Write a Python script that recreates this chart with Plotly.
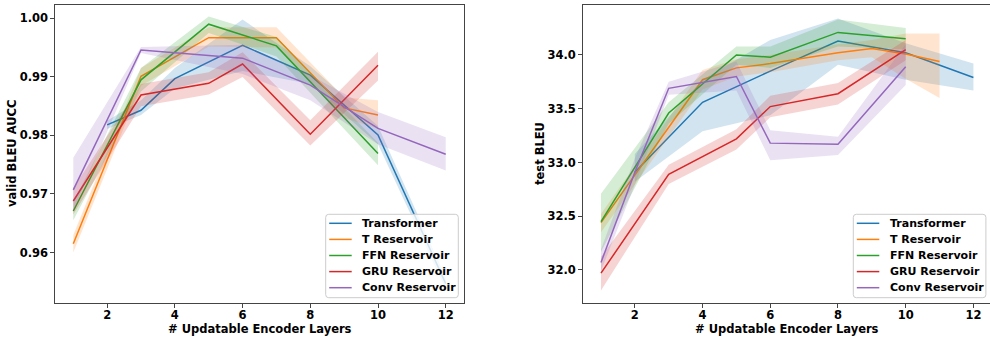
import plotly.graph_objects as go

# ---------------- data: validation BLEU AUCC ----------------
valid_transformer_x = [2, 3, 4, 6, 8, 10, 12]
valid_transformer_y = [0.9818, 0.9843, 0.9897, 0.9954, 0.9903, 0.9801, 0.9547]
valid_transformer_lo = [0.9811, 0.9835, 0.9880, 0.9910, 0.9888, 0.9785, 0.9537]
valid_transformer_hi = [0.9825, 0.9860, 0.9915, 0.9998, 0.9918, 0.9816, 0.9558]

valid_t_res_x = [1, 3, 5, 7, 9, 10]
valid_t_res_y = [0.9615, 0.9901, 0.9967, 0.9967, 0.9847, 0.9835]
valid_t_res_lo = [0.9600, 0.9885, 0.9952, 0.9950, 0.9830, 0.9812]
valid_t_res_hi = [0.9630, 0.9915, 0.9985, 0.9985, 0.9865, 0.9860]

valid_ffn_x = [1, 3, 5, 7, 10]
valid_ffn_y = [0.9671, 0.9895, 0.9990, 0.9953, 0.9769]
valid_ffn_lo = [0.9655, 0.9875, 0.9975, 0.9935, 0.9749]
valid_ffn_hi = [0.9686, 0.9915, 1.0003, 0.9968, 0.9787]

valid_gru_x = [1, 3, 5, 6, 8, 10]
valid_gru_y = [0.9688, 0.9869, 0.9889, 0.9922, 0.9802, 0.9920]
valid_gru_lo = [0.9665, 0.9850, 0.9870, 0.9900, 0.9783, 0.9894]
valid_gru_hi = [0.9710, 0.9888, 0.9908, 0.9942, 0.9826, 0.9943]

valid_conv_x = [1, 3, 6, 8, 10, 12]
valid_conv_y = [0.9707, 0.9946, 0.9932, 0.9886, 0.9812, 0.9768]
valid_conv_lo = [0.9672, 0.9941, 0.9905, 0.9860, 0.9785, 0.9740]
valid_conv_hi = [0.9762, 0.9951, 0.9955, 0.9903, 0.9840, 0.9797]

# ---------------- data: test BLEU ----------------
test_transformer_x = [2, 4, 6, 8, 10, 12]
test_transformer_y = [32.91, 33.56, 33.85, 34.13, 34.02, 33.79]
test_transformer_lo = [32.82, 33.29, 33.44, 33.91, 33.77, 33.67]
test_transformer_hi = [33.08, 33.77, 34.14, 34.34, 34.11, 33.92]

test_t_res_x = [1, 4, 5, 6, 8, 9, 10, 11]
test_t_res_y = [32.44, 33.77, 33.88, 33.92, 34.02, 34.06, 34.01, 33.94]
test_t_res_lo = [32.35, 33.68, 33.80, 33.84, 33.95, 33.98, 33.78, 33.60]
test_t_res_hi = [32.52, 33.86, 33.96, 34.00, 34.10, 34.14, 34.20, 34.20]

test_ffn_x = [1, 3, 5, 6, 8, 10]
test_ffn_y = [32.45, 33.46, 34.00, 33.98, 34.21, 34.15]
test_ffn_lo = [32.17, 33.36, 33.91, 33.88, 34.08, 34.05]
test_ffn_hi = [32.71, 33.56, 34.08, 34.08, 34.33, 34.25]

test_gru_x = [1, 3, 5, 6, 8, 10]
test_gru_y = [31.97, 32.89, 33.22, 33.52, 33.64, 34.05]
test_gru_lo = [31.81, 32.80, 33.12, 33.42, 33.54, 33.95]
test_gru_hi = [32.12, 32.98, 33.31, 33.62, 33.74, 34.14]

test_conv_x = [1, 2, 3, 5, 6, 8, 10]
test_conv_y = [32.07, 32.91, 33.69, 33.80, 33.18, 33.17, 33.89]
test_conv_lo = [31.99, 32.79, 33.63, 33.67, 33.02, 33.07, 33.72]
test_conv_hi = [32.19, 33.04, 33.75, 33.94, 33.30, 33.24, 34.10]

series_names = ["Transformer", "T Reservoir", "FFN Reservoir", "GRU Reservoir", "Conv Reservoir"]
series_colors = ["#1f77b4", "#ff7f0e", "#2ca02c", "#d62728", "#9467bd"]

x_ticks = [2, 4, 6, 8, 10, 12]
valid_y_ticks = [0.96, 0.97, 0.98, 0.99, 1.00]
test_y_ticks = [32.0, 32.5, 33.0, 33.5, 34.0]

valid_series = [
    (valid_transformer_x, valid_transformer_y, valid_transformer_lo, valid_transformer_hi),
    (valid_t_res_x, valid_t_res_y, valid_t_res_lo, valid_t_res_hi),
    (valid_ffn_x, valid_ffn_y, valid_ffn_lo, valid_ffn_hi),
    (valid_gru_x, valid_gru_y, valid_gru_lo, valid_gru_hi),
    (valid_conv_x, valid_conv_y, valid_conv_lo, valid_conv_hi),
]
test_series = [
    (test_transformer_x, test_transformer_y, test_transformer_lo, test_transformer_hi),
    (test_t_res_x, test_t_res_y, test_t_res_lo, test_t_res_hi),
    (test_ffn_x, test_ffn_y, test_ffn_lo, test_ffn_hi),
    (test_gru_x, test_gru_y, test_gru_lo, test_gru_hi),
    (test_conv_x, test_conv_y, test_conv_lo, test_conv_hi),
]

W, H = 990, 337
FONT = "DejaVu Sans"
SPINE = "#444444"


def rgba(hex_color, a):
    h = hex_color.lstrip("#")
    r, g, b = int(h[0:2], 16), int(h[2:4], 16), int(h[4:6], 16)
    return f"rgba({r},{g},{b},{a})"


fig = go.Figure()


def add_panel(series, xa, ya):
    for (xs, ys, lo, hi), name, color in zip(series, series_names, series_colors):
        # confidence band as a closed polygon
        fig.add_trace(go.Scatter(
            x=list(xs) + list(xs)[::-1],
            y=list(hi) + list(lo)[::-1],
            fill="toself", fillcolor=rgba(color, 0.2),
            line=dict(width=0), mode="lines",
            hoverinfo="skip", showlegend=False,
            xaxis=xa, yaxis=ya,
        ))
        fig.add_trace(go.Scatter(
            x=xs, y=ys, mode="lines", name=name,
            line=dict(color=color, width=1.5),
            showlegend=False, xaxis=xa, yaxis=ya,
        ))


add_panel(valid_series, "x", "y")
add_panel(test_series, "x2", "y2")

axis_common = dict(
    showgrid=False, zeroline=False, showline=True, linecolor=SPINE, linewidth=1.3,
    ticks="outside", ticklen=3.5, tickwidth=1.2, tickcolor=SPINE,
    tickfont=dict(family=FONT, size=11.5, color="black", weight="bold"),
)

y_dom = [1 - 303.3 / H, 1 - 5 / H]

fig.update_layout(
    width=W, height=H,
    margin=dict(l=0, r=0, t=0, b=0),
    paper_bgcolor="white", plot_bgcolor="white",
    font=dict(family=FONT, size=11, color="black", weight="bold"),
    xaxis=dict(domain=[55 / W, 464 / W], range=[0.46, 12.54], tickvals=x_ticks,
               mirror=True, anchor="y", ticklabelstandoff=-3, **axis_common),
    yaxis=dict(domain=y_dom, range=[0.95133, 1.00228], tickvals=valid_y_ticks,
               tickformat=".2f", mirror=True, anchor="x", **axis_common),
    xaxis2=dict(domain=[582.7 / W, 1.0], range=[0.46, 12.49], tickvals=x_ticks,
                mirror=True, anchor="y2", ticklabelstandoff=-3, **axis_common),
    yaxis2=dict(domain=y_dom, range=[31.69, 34.465], tickvals=test_y_ticks,
                tickformat=".1f", mirror=False, anchor="x2", **axis_common),
)


def px(x):
    return x / W


def py(y):
    return 1 - y / H


annotations = []
title_font = dict(family=FONT, size=11.5, color="black", weight="bold")
annotations.append(dict(text="valid BLEU AUCC", x=px(12), y=py(154), xref="paper", yref="paper",
                        textangle=-90, showarrow=False, font=title_font,
                        xanchor="center", yanchor="middle"))
annotations.append(dict(text="test BLEU", x=px(540), y=py(154), xref="paper", yref="paper",
                        textangle=-90, showarrow=False, font=title_font,
                        xanchor="center", yanchor="middle"))
annotations.append(dict(text="# Updatable Encoder Layers", x=px(259.5), y=py(329), xref="paper",
                        yref="paper", showarrow=False, font=title_font,
                        xanchor="center", yanchor="middle"))
annotations.append(dict(text="# Updatable Encoder Layers", x=px(787), y=py(329), xref="paper",
                        yref="paper", showarrow=False, font=title_font,
                        xanchor="center", yanchor="middle"))

shapes = []


def rounded_box(x0, y0, x1, y1, r=3):
    rx, ry = r / W, r / H
    X0, X1 = px(x0), px(x1)
    Y0, Y1 = py(y0), py(y1)  # Y0 top, Y1 bottom
    return (f"M {X0 + rx},{Y0} L {X1 - rx},{Y0} Q {X1},{Y0} {X1},{Y0 - ry} "
            f"L {X1},{Y1 + ry} Q {X1},{Y1} {X1 - rx},{Y1} "
            f"L {X0 + rx},{Y1} Q {X0},{Y1} {X0},{Y1 + ry} "
            f"L {X0},{Y0 - ry} Q {X0},{Y0} {X0 + rx},{Y0} Z")


def add_legend(left):
    top, bottom = 214.3, 297.7
    shapes.append(dict(type="path", path=rounded_box(left, top, left + 132.6, bottom),
                       xref="paper", yref="paper", fillcolor="rgba(255,255,255,0.8)",
                       line=dict(color="#cccccc", width=1), layer="above"))
    for i, (name, color) in enumerate(zip(series_names, series_colors)):
        yy = 223.3 + i * 16.1
        shapes.append(dict(type="line", x0=px(left + 3.5), x1=px(left + 26), y0=py(yy), y1=py(yy),
                           xref="paper", yref="paper", line=dict(color=color, width=1.5),
                           layer="above"))
        annotations.append(dict(text=name, x=px(left + 34.5), y=py(yy), xref="paper",
                                yref="paper", showarrow=False, xanchor="left",
                                yanchor="middle",
                                font=dict(family=FONT, size=11, color="black", weight="bold")))


add_legend(325.7)
add_legend(853.3)

fig.update_layout(annotations=annotations, shapes=shapes)

fig.write_html("out.html")
